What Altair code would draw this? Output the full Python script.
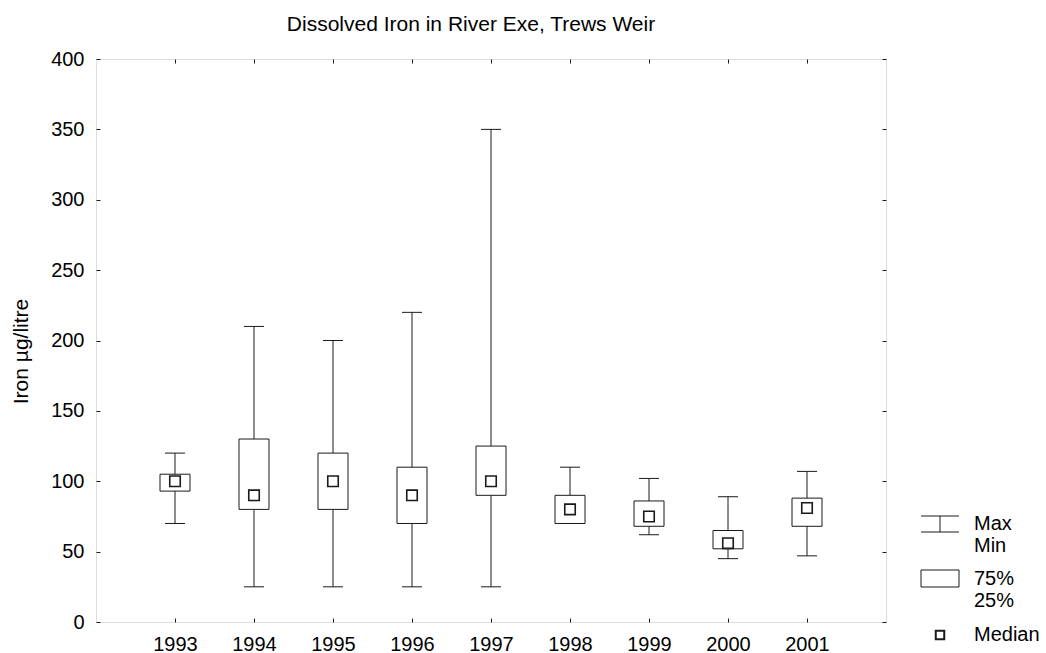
import altair as alt
import pandas as pd

years = [1993, 1994, 1995, 1996, 1997, 1998, 1999, 2000, 2001]
mins = [70, 25, 25, 25, 25, 70, 62, 45, 47]
q25 = [93, 80, 80, 70, 90, 70, 68, 52, 68]
medians = [100, 90, 100, 90, 100, 80, 75, 56, 81]
q75 = [105, 130, 120, 110, 125, 90, 86, 65, 88]
maxs = [120, 210, 200, 220, 350, 110, 102, 89, 107]

y_ticks = [0, 50, 100, 150, 200, 250, 300, 350, 400]

df = pd.DataFrame({"year": years, "min": mins, "q25": q25, "median": medians,
                   "q75": q75, "max": maxs})

FONT = "Liberation Sans"
INK = "#1a1a1a"
W, H = 790, 563
FS = 20

xs = alt.Scale(domain=[1992, 2002], nice=False, zero=False)
ys = alt.Scale(domain=[0, 400], nice=False, zero=True)

base = alt.Chart(df)
X = alt.X("year:Q", scale=xs, axis=None)

whisker = base.mark_rule(color=INK, strokeWidth=1).encode(
    x=X, y=alt.Y("min:Q", scale=ys, axis=None), y2="max:Q")
cap_lo = base.mark_rule(color=INK, strokeWidth=1, xOffset=-10, x2Offset=10).encode(
    x=X, x2="year:Q", y=alt.Y("min:Q", scale=ys, axis=None))
cap_hi = base.mark_rule(color=INK, strokeWidth=1, xOffset=-10, x2Offset=10).encode(
    x=X, x2="year:Q", y=alt.Y("max:Q", scale=ys, axis=None))
box = base.mark_rect(fill="white", stroke=INK, strokeWidth=1, xOffset=-15, x2Offset=15).encode(
    x=X, x2="year:Q", y=alt.Y("q25:Q", scale=ys, axis=None), y2="q75:Q")
med = base.mark_square(size=110, fill="white", stroke=INK, strokeWidth=1.6, opacity=1).encode(
    x=X, y=alt.Y("median:Q", scale=ys, axis=None))

# axes
ax_main = base.mark_point(opacity=0).encode(
    x=alt.X("year:Q", scale=xs, axis=alt.Axis(orient="bottom", values=years, format="d",
            ticks=False, domain=False, grid=False, labelPadding=12, title=None,
            labelFont=FONT, labelFontSize=FS, labelColor="black")),
    y=alt.Y("min:Q", scale=ys, axis=alt.Axis(orient="left", values=y_ticks, ticks=False,
            domain=False, grid=False, labelPadding=12, title="Iron µg/litre",
            titleFont=FONT, titleFontSize=21, titleFontWeight="normal", titleColor="black",
            titlePadding=19, titleY=292, labelFont=FONT, labelFontSize=FS,
            labelColor="black")),
)
ax_in = base.mark_point(opacity=0).encode(
    x=alt.X("year:Q", scale=xs, axis=alt.Axis(orient="top", offset=-H, values=years,
            labels=False, domain=False, grid=False, tickSize=4, tickColor=INK, title=None)),
    y=alt.Y("min:Q", scale=ys, axis=alt.Axis(orient="right", offset=-W, values=y_ticks,
            labels=False, domain=False, grid=False, tickSize=4, tickColor=INK, title=None)),
)
ax_mirror = base.mark_point(opacity=0).encode(
    x=alt.X("year:Q", scale=xs, axis=alt.Axis(orient="bottom", offset=-H, values=years,
            labels=False, domain=False, grid=False, tickSize=4, tickColor=INK, title=None)),
    y=alt.Y("min:Q", scale=ys, axis=alt.Axis(orient="left", offset=-W, values=y_ticks,
            labels=False, domain=False, grid=False, tickSize=4, tickColor=INK, title=None)),
)

# legend (drawn in the right margin)
leg_lines = alt.Chart(pd.DataFrame({"k": ["a"]}))
lg1 = leg_lines.mark_rule(color=INK).encode(x=alt.value(825), x2=alt.value(863), y=alt.value(457))
lg2 = leg_lines.mark_rule(color=INK).encode(x=alt.value(825), x2=alt.value(863), y=alt.value(473))
lg3 = leg_lines.mark_rule(color=INK).encode(x=alt.value(844), y=alt.value(457), y2=alt.value(473))
lg4 = leg_lines.mark_rect(fill="white", stroke=INK).encode(
    x=alt.value(825), x2=alt.value(863), y=alt.value(511), y2=alt.value(528))
lg5 = leg_lines.mark_square(size=72, fill="white", stroke=INK, opacity=1).encode(
    x=alt.value(844), y=alt.value(576))

leg_labels = ["Max", "Min", "75%", "25%", "Median"]
leg_y = [465, 487, 520, 542, 576]
leg_df = pd.DataFrame({"label": leg_labels, "py": leg_y})
lgt = alt.Chart(leg_df).mark_text(align="left", baseline="middle", font=FONT, fontSize=FS,
                                  color="black").encode(
    x=alt.value(878), y=alt.Y("py:Q", scale=None), text="label:N")

chart = alt.layer(
    ax_main, ax_in, ax_mirror, whisker, cap_lo, cap_hi, box, med,
    lg1, lg2, lg3, lg4, lg5, lgt,
).resolve_scale(x="independent", y="independent").resolve_axis(
    x="independent", y="independent"
).properties(
    width=W, height=H,
    title=alt.TitleParams("Dissolved Iron in River Exe, Trews Weir", font=FONT, fontSize=21,
                          fontWeight="normal", color="black", anchor="middle", dx=-20,
                          offset=14),
    autosize=alt.AutoSizeParams(type="none"),
    padding={"left": 96, "top": 59, "right": 160, "bottom": 31},
).configure_view(stroke=INK, strokeWidth=1.2).configure(background="white")

chart.save("out.html", embed_options={"renderer": "svg", "actions": False})
